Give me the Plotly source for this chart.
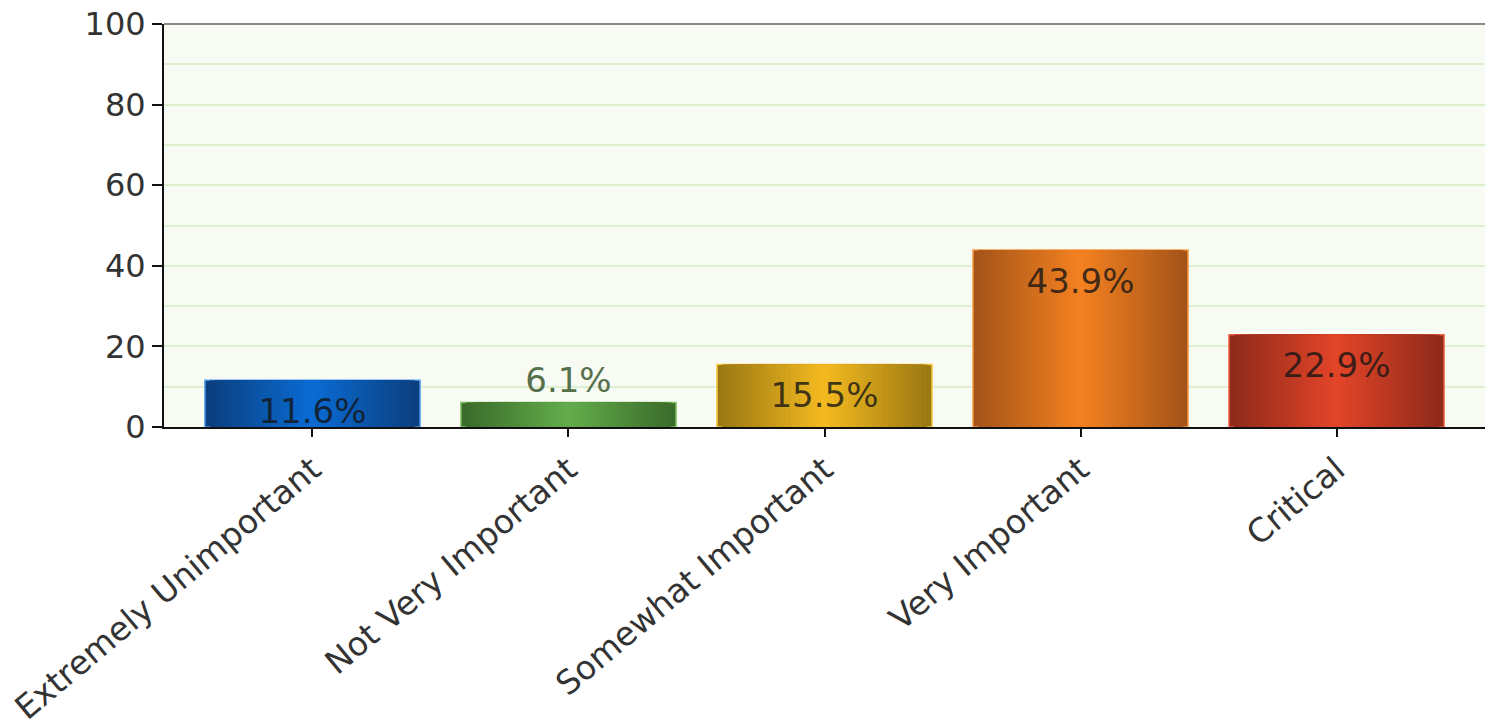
import plotly.graph_objects as go

categories = ["Extremely Unimportant", "Not Very Important", "Somewhat Important", "Very Important", "Critical"]
values = [11.6, 6.1, 15.5, 43.9, 22.9]
labels = ["11.6%", "6.1%", "15.5%", "43.9%", "22.9%"]
y_ticks = [0, 20, 40, 60, 80, 100]

edge_colors = ["#0b3f7e", "#3b6b2b", "#9a7812", "#a4541a", "#8e2a1a"]
center_colors = ["#0a6ad2", "#62ab4a", "#f2b820", "#f28020", "#e24428"]
border_colors = ["#4a98e8", "#7cc060", "#f8c840", "#f89a40", "#f06040"]


def hex2rgb(h):
    h = h.lstrip("#")
    return [int(h[i:i + 2], 16) for i in (0, 2, 4)]


def lerp(c1, c2, t):
    a, b = hex2rgb(c1), hex2rgb(c2)
    return "rgb(%d,%d,%d)" % tuple(round(a[k] + (b[k] - a[k]) * t) for k in range(3))


fig = go.Figure()
N = 22
full_w = 0.84
for i in range(N):
    t = i / (N - 1)
    w = full_w * (1 - i / N)
    fig.add_trace(go.Bar(
        x=categories, y=values, width=w,
        marker=dict(
            color=[lerp(e, c, t) for e, c in zip(edge_colors, center_colors)],
            line=dict(width=1.5 if i == 0 else 0, color=border_colors),
        ),
        hoverinfo="skip", showlegend=False,
    ))

inside = [v >= 10 for v in values]
fig.add_trace(go.Scatter(
    x=[c for c, f in zip(categories, inside) if f],
    y=[v for v, f in zip(values, inside) if f],
    text=[l for l, f in zip(labels, inside) if f],
    mode="markers+text", textposition="bottom center",
    marker=dict(size=26, color="rgba(0,0,0,0)"),
    textfont=dict(family="DejaVu Sans", size=34, color="rgba(20,20,20,0.8)"),
    cliponaxis=True, showlegend=False, hoverinfo="skip",
))
fig.add_trace(go.Scatter(
    x=[c for c, f in zip(categories, inside) if not f],
    y=[v for v, f in zip(values, inside) if not f],
    text=[l for l, f in zip(labels, inside) if not f],
    mode="markers+text", textposition="top center",
    marker=dict(size=2, color="rgba(0,0,0,0)"),
    textfont=dict(family="DejaVu Sans", size=34, color="#55704a"),
    cliponaxis=False, showlegend=False, hoverinfo="skip",
))

fig.update_layout(
    barmode="overlay",
    width=1485, height=727,
    margin=dict(l=164, r=0, t=24, b=300),
    paper_bgcolor="white",
    plot_bgcolor="#f8faf4",
    font=dict(family="DejaVu Sans", color="#333333"),
    xaxis=dict(
        range=[-0.58, 4.58],
        showline=True, linecolor="#111111", linewidth=2,
        ticks="outside", ticklen=8, tickcolor="#111111", tickwidth=1.5,
        tickangle=-40,
        tickfont=dict(family="DejaVu Sans", size=33, color="#333333"),
        showgrid=False,
    ),
    yaxis=dict(
        range=[0, 100],
        tickvals=y_ticks,
        showline=True, linecolor="#111111", linewidth=2,
        ticks="outside", ticklen=10, tickcolor="#111111", tickwidth=2,
        tickfont=dict(family="DejaVu Sans", size=32, color="#333333"),
        showgrid=True, gridcolor="#dcefcf", gridwidth=2,
        minor=dict(dtick=10, showgrid=True, gridcolor="#dcefcf", gridwidth=2),
        zeroline=False,
    ),
    shapes=[dict(type="line", xref="paper", yref="paper", x0=0, x1=1, y0=1, y1=1,
                 line=dict(color="#888888", width=2))],
)

fig.write_html("out.html", config={"displayModeBar": False},
               post_script="document.body.style.margin='0';document.body.style.overflow='hidden';")
